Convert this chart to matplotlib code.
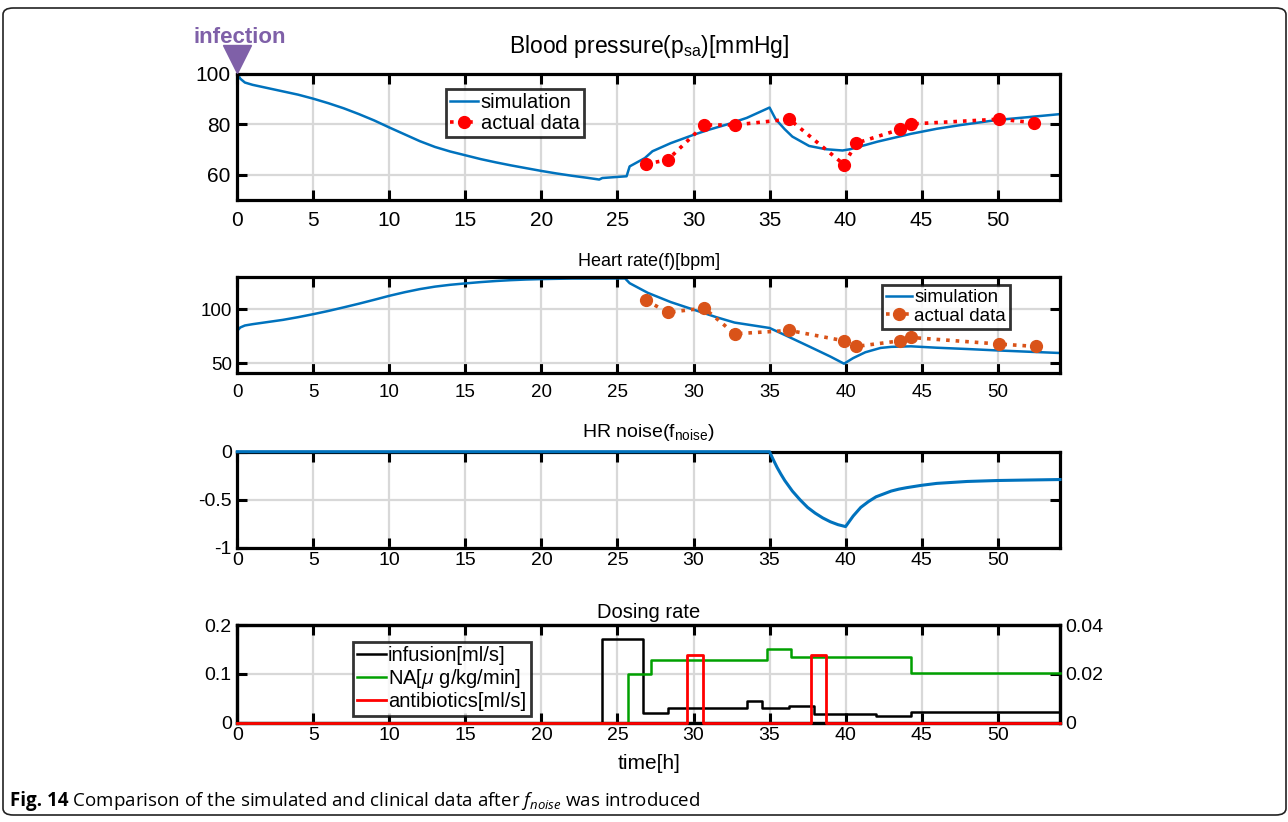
import matplotlib
matplotlib.use("Agg")
import matplotlib.pyplot as plt
import matplotlib.transforms as mtransforms
from matplotlib.patches import FancyBboxPatch

plt.rcParams['font.family'] = ['Liberation Sans', 'DejaVu Sans']
plt.rcParams['mathtext.fontset'] = 'custom'
plt.rcParams['mathtext.rm'] = 'Liberation Sans'
plt.rcParams['mathtext.it'] = 'Open Sans:italic'
plt.rcParams['mathtext.bf'] = 'Open Sans:bold'

# ---------------- data ----------------
bp_sim_t = [0, 0.2, 0.5, 1, 2, 3, 4, 5, 6, 7, 8, 9, 10, 11, 12, 13, 14, 15, 16, 17, 18, 19,
            20, 21, 22, 23, 23.8, 24.0, 25.6, 25.8, 26.8, 27.3, 28.5, 30, 31, 32.2, 33.5, 35,
            35.4, 36, 36.5, 37.6, 38.7, 39.8, 40.3, 42.1, 44.3, 46, 47.6, 50, 52, 54.1]
bp_sim_v = [100, 98, 96.5, 95.6, 94.3, 93, 91.7, 90.1, 88.3, 86.3, 84, 81.5, 78.7, 76, 73.3,
            71, 69.2, 67.7, 66.2, 64.9, 63.7, 62.6, 61.5, 60.5, 59.6, 58.8, 58.1, 58.7, 59.4,
            63.3, 66.6, 69.3, 72.5, 75.8, 77.8, 79.9, 82.5, 86.6, 82, 78, 75.1, 71.4, 70.1,
            69.6, 70.1, 73.1, 76.2, 78.2, 79.7, 81.7, 82.8, 84]
bp_act_t = [26.9, 28.3, 30.7, 32.7, 36.3, 39.9, 40.7, 43.6, 44.3, 50.1, 52.4]
bp_act_v = [64.3, 65.9, 79.7, 79.7, 82.0, 64.0, 72.5, 78.0, 80.1, 82.0, 80.6]

hr_sim_t = [0, 0.2, 0.5, 1, 2, 3, 4, 5, 6, 7, 8, 9, 10, 11, 12, 13, 14, 15, 16, 17, 18, 19,
            20, 22, 25.5, 25.8, 27, 28.5, 30, 31.5, 32.7, 35, 36, 37.6, 39, 39.9, 40.5, 41.3,
            42.3, 43, 44.3, 46, 48, 49.8, 52, 54.1]
hr_sim_v = [80, 83, 84.8, 86, 88, 90, 92.5, 95.3, 98.3, 101.6, 105, 108.6, 112.3, 115.6,
            118.5, 120.8, 122.5, 123.8, 125, 126, 126.8, 127.4, 127.8, 128.3, 128.4, 124, 115,
            106.5, 99.5, 92.5, 87.5, 82.5, 76, 65.4, 56, 49.4, 54.6, 60, 64, 65, 65.5, 64.2,
            63, 61.8, 60.5, 59.3]
hr_act_t = [26.9, 28.3, 30.7, 32.7, 36.3, 39.9, 40.7, 43.6, 44.3, 50.1, 52.5]
hr_act_v = [108, 96.9, 100.9, 77.1, 80.2, 70.6, 65.4, 70.6, 73.7, 67.6, 65.4]

noise_t = [0, 35, 35.25, 35.5, 35.75, 36, 36.5, 37, 37.5, 38, 38.5, 39, 39.5, 40, 40.5, 41,
           41.5, 42, 42.5, 43, 43.5, 44, 45, 46, 48, 50, 52, 54.1]
noise_v = [0, 0, -0.085, -0.165, -0.235, -0.3, -0.41, -0.5, -0.58, -0.64, -0.69, -0.73,
           -0.76, -0.78, -0.67, -0.58, -0.52, -0.47, -0.44, -0.41, -0.39, -0.375, -0.35,
           -0.33, -0.31, -0.30, -0.295, -0.29]

inf_t = [0, 24.0, 26.7, 28.3, 33.5, 34.5, 36.3, 37.9, 42.0, 44.3, 54.1]
inf_v = [0, 0.172, 0.019, 0.031, 0.045, 0.031, 0.034, 0.018, 0.013, 0.022, 0.022]
na_t = [0, 25.7, 27.2, 34.8, 36.4, 44.3, 54.1]
na_v = [0, 0.020, 0.0258, 0.030, 0.027, 0.0202, 0.0202]
ab_t = [0, 29.6, 30.6, 37.7, 38.7, 54.1]
ab_v = [0, 0.0278, 0, 0.0278, 0, 0]

xticks = [0, 5, 10, 15, 20, 25, 30, 35, 40, 45, 50]
infection_t = 0

BLUE = '#0072BD'
RED = '#FF0000'
ORANGE = '#D95319'
GREEN = '#00A000'
PURPLE = '#7F60A8'
GRID = '#d8d8d8'

W, H = 1288, 822
fig = plt.figure(figsize=(W / 100, H / 100), dpi=100)

def px_axes(left, top, right, bottom):
    return fig.add_axes([left / W, 1 - bottom / H, (right - left) / W, (bottom - top) / H])

def style(ax, fs, xpad, ypad, right=True):
    ax.set_xlim(0, 54.1)
    ax.set_xticks(xticks)
    for s in ax.spines.values():
        s.set_linewidth(2.3)
        s.set_color('black')
    ax.grid(True, color=GRID, linewidth=1.6)
    ax.set_axisbelow(True)
    ax.tick_params(axis='x', direction='in', length=7, width=2.2, top=True,
                   labelsize=fs, pad=xpad)
    ax.tick_params(axis='y', direction='in', length=7, width=2.2, right=right,
                   labelsize=fs, pad=ypad)

def legend(ax, handles, labels, anchor, fs):
    lg = ax.legend(handles, labels, loc='upper left', bbox_to_anchor=anchor,
                   borderaxespad=0, fontsize=fs, frameon=True, fancybox=False,
                   edgecolor='black', handlelength=1.4, handletextpad=0.12,
                   borderpad=0.22, labelspacing=0.08)
    lg.get_frame().set_linewidth(2.0)
    return lg

# ---- panel 1: blood pressure ----
ax1 = px_axes(237.3, 73.7, 1060, 200)
h1, = ax1.plot(bp_sim_t, bp_sim_v, color=BLUE, lw=1.8)
h2, = ax1.plot(bp_act_t, bp_act_v, color=RED, lw=2.6, ls=':', marker='o', ms=8.5)
ax1.set_ylim(50, 100)
ax1.set_yticks([60, 80, 100])
style(ax1, 15, 8, 5)
legend(ax1, [h1, h2], ['simulation', 'actual data'], (0.2533, 0.879), 14.5)

# infection marker
trans = mtransforms.blended_transform_factory(ax1.transData, ax1.transAxes)
off = mtransforms.ScaledTranslation(0, 15 / 100, fig.dpi_scale_trans)
ax1.plot([infection_t], [1.0], marker='v', ms=19.5, color=PURPLE, mec=PURPLE,
         transform=trans + off, clip_on=False, zorder=10)
ax1.text(infection_t, 1.0, 'infection', transform=trans + mtransforms.ScaledTranslation(
    2.5 / 100, 30.5 / 100, fig.dpi_scale_trans), ha='center', va='baseline',
    fontsize=16, fontweight='bold', color=PURPLE)

# ---- panel 2: heart rate ----
ax2 = px_axes(237.3, 276.7, 1060, 373.3)
g1, = ax2.plot(hr_sim_t, hr_sim_v, color=BLUE, lw=1.8)
g2, = ax2.plot(hr_act_t, hr_act_v, color=ORANGE, lw=2.6, ls=':', marker='o', ms=8.5)
ax2.set_ylim(40.5, 130)
ax2.set_yticks([50, 100])
style(ax2, 13.5, 8, 4)
legend(ax2, [g1, g2], ['simulation', 'actual data'], (0.7833, 0.914), 13.5)

# ---- panel 3: HR noise ----
ax3 = px_axes(237.3, 451.7, 1060, 547.7)
ax3.plot(noise_t, noise_v, color=BLUE, lw=2.2, clip_on=False, zorder=3)
ax3.set_ylim(-1, 0)
ax3.set_yticks([-1, -0.5, 0])
ax3.set_yticklabels(['-1', '-0.5', '0'])
style(ax3, 14, 3, 4)

# ---- panel 4: dosing rate ----
ax4 = px_axes(237.3, 625, 1060, 722.7)
ax4r = ax4.twinx()
l_inf, = ax4.plot(inf_t, inf_v, color='black', lw=1.8, drawstyle='steps-post',
                  clip_on=False, zorder=3)
ax4.set_ylim(0, 0.2)
ax4.set_yticks([0, 0.1, 0.2])
ax4.set_yticklabels(['0', '0.1', '0.2'])
style(ax4, 14, 3, 4, right=False)
l_na, = ax4r.plot(na_t, na_v, color=GREEN, lw=1.8, drawstyle='steps-post',
                  clip_on=False, zorder=3)
l_ab, = ax4r.plot(ab_t, ab_v, color=RED, lw=2.0, drawstyle='steps-post',
                  clip_on=False, zorder=3)
ax4r.set_ylim(0, 0.04)
ax4r.set_yticks([0, 0.02, 0.04])
ax4r.set_yticklabels(['0', '0.02', '0.04'])
ax4r.set_xlim(0, 54.1)
for s in ax4r.spines.values():
    s.set_linewidth(2.3)
ax4r.tick_params(axis='y', direction='in', length=7, width=2.2, labelsize=14, pad=4)
legend(ax4r, [l_inf, l_na, l_ab],
       ['infusion[ml/s]', 'NA[$\\mu$ g/kg/min]', 'antibiotics[ml/s]'],
       (0.1406, 0.829), 14.5)

# ---- titles & labels ----
cx = (237.3 + 1060) / 2 / W
fig.text(cx, 1 - 52.7 / H, 'Blood pressure(p$_{\\rm sa}$)[mmHg]', ha='center',
         va='baseline', fontsize=16.5)
fig.text(cx, 1 - 266 / H, 'Heart rate(f)[bpm]', ha='center', va='baseline', fontsize=13)
fig.text(cx, 1 - 437 / H, 'HR noise(f$_{\\rm noise}$)', ha='center', va='baseline',
         fontsize=14)
fig.text(cx, 1 - 618.3 / H, 'Dosing rate', ha='center', va='baseline', fontsize=14.5)
fig.text(cx, 1 - 769 / H, 'time[h]', ha='center', va='baseline', fontsize=15)

# caption
cap_y = 1 - 806 / H
cap_fam = ['Open Sans', 'DejaVu Sans']
t_bold = fig.text(10 / W, cap_y, 'Fig. 14', ha='left', va='baseline', fontsize=13.5,
                  fontweight='bold', family=cap_fam)
fig.text(0, 0, ' Comparison of the simulated and clinical data after '
         '$\\mathit{f}_{\\mathit{noise}}$ was introduced', ha='left', va='baseline',
         fontsize=13.5, family=cap_fam,
         transform=mtransforms.blended_transform_factory(
             mtransforms.IdentityTransform(), fig.transFigure))
# position rest of caption right after the bold part
fig.canvas.draw()
bb = t_bold.get_window_extent(renderer=fig.canvas.get_renderer())
fig.texts[-1].set_transform(fig.transFigure)
fig.texts[-1].set_position((bb.x1 / W, cap_y))

# frame
frame = FancyBboxPatch((3 / W, 1 - 815 / H), 1283 / W, 807 / H,
                       boxstyle='round,pad=0,rounding_size=0.008',
                       transform=fig.transFigure, fill=False, edgecolor='#222222',
                       linewidth=1.2)
fig.patches.append(frame)

fig.savefig('out.png', dpi=100)
